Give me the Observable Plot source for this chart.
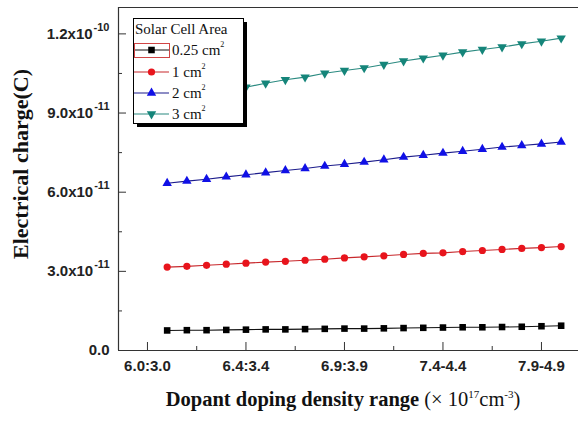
<!DOCTYPE html>
<html><head><meta charset="utf-8">
<script src="https://cdn.jsdelivr.net/npm/d3@7"></script>
<script src="https://cdn.jsdelivr.net/npm/@observablehq/plot@0.6"></script>
<style>body{margin:0;background:#fff} svg{display:block}</style>
</head><body><div id="chart"></div>
<script>
// ---- data (charge in units of 1e-11 C) ----
const positions = [1,2,3,4,5,6,7,8,9,10,11,12,13,14,15,16,17,18,19,20,21];
const xTickValues = [0,5,10,15,20];
const xTickLabels = ["6.0:3.0","6.4:3.4","6.9:3.9","7.4-4.4","7.9-4.9"];
const yTickValues = [0,3,6,9,12];
const yTickMantissas = ["0.0","3.0x10","6.0x10","9.0x10","1.2x10"];
const yTickExponents = ["","-11","-11","-11","-10"];
const seriesNames = ["0.25 cm","1 cm","2 cm","3 cm"];
const area025 = [0.76,0.77,0.77,0.78,0.79,0.80,0.80,0.81,0.82,0.83,0.83,0.84,0.85,0.86,0.87,0.88,0.88,0.89,0.90,0.92,0.94];
const area1   = [3.16,3.19,3.23,3.27,3.31,3.35,3.38,3.42,3.46,3.51,3.55,3.59,3.64,3.68,3.70,3.75,3.79,3.83,3.87,3.90,3.94];
const area2   = [6.34,6.42,6.49,6.58,6.66,6.74,6.82,6.90,6.99,7.06,7.14,7.23,7.33,7.40,7.48,7.55,7.63,7.71,7.77,7.83,7.90];
const area3   = [9.48,9.60,9.73,9.86,9.98,10.13,10.26,10.36,10.51,10.61,10.71,10.84,10.97,11.08,11.19,11.31,11.41,11.50,11.62,11.72,11.84];

// ---- styling ----
const W = 578, H = 423, mL = 118, mR = 0, mT = 7, mB = 73;
const frameW = W - mL - mR, frameH = H - mT - mB;
const xDomain = [-1.47, 21.88], yDomain = [0, 13];
const triangleDown = {
  draw(context, size) {
    const s3 = Math.sqrt(3);
    const y = -Math.sqrt(size / (s3 * 3));
    context.moveTo(0, -y * 2);
    context.lineTo(-s3 * y, y);
    context.lineTo(s3 * y, y);
    context.closePath();
  }
};
const styles = [
  {values: area025, line: "#111", fill: "#000", symbol: "square", d3sym: d3.symbolSquare, r: 3.7},
  {values: area1, line: "#c8282c", fill: "#e8141c", symbol: "circle", d3sym: d3.symbolCircle, r: 3.6},
  {values: area2, line: "#1c1c8c", fill: "#1010e6", symbol: "triangle", d3sym: d3.symbolTriangle, r: 3.5},
  {values: area3, line: "#2a8a80", fill: "#15857a", symbol: triangleDown, d3sym: triangleDown, r: 3.5}
];

const seriesMarks = [];
styles.forEach((s, si) => {
  const rows = s.values.map((v, i) => ({x: positions[i], y: v}));
  seriesMarks.push(Plot.line(rows, {x: "x", y: "y", stroke: s.line, strokeWidth: 1.1}));
  seriesMarks.push(Plot.dot(rows, {x: "x", y: "y", symbol: s.symbol, fill: s.fill, stroke: "none", r: s.r}));
});

const yMinor = [1.5, 4.5, 7.5, 10.5];
const xMinor = [2.5, 7.5, 12.5, 17.5];

const plot = Plot.plot({
  width: W, height: H,
  marginLeft: mL, marginRight: mR, marginTop: mT, marginBottom: mB,
  style: {background: "#fff", fontFamily: "'Liberation Sans', Arial, sans-serif", overflow: "visible"},
  x: {domain: xDomain},
  y: {domain: yDomain},
  marks: [
    ...seriesMarks,
    Plot.ruleY([yDomain[0], yDomain[1]], {stroke: "#333", strokeWidth: 1.2}),
    Plot.ruleX([xDomain[0]], {stroke: "#333", strokeWidth: 1.2}),
    Plot.tickY(yTickValues, {y: d => d, insetRight: frameW - 8, stroke: "#333"}),
    Plot.tickY(yMinor, {y: d => d, insetRight: frameW - 4, stroke: "#333"}),
    Plot.tickX(xTickValues, {x: d => d, insetTop: frameH - 8, stroke: "#333"}),
    Plot.tickX(xMinor, {x: d => d, insetTop: frameH - 4, stroke: "#333"}),
    Plot.axisX(xTickValues, {tickSize: 0, tickPadding: 10, label: null,
      tickFormat: d => xTickLabels[xTickValues.indexOf(d)],
      fontSize: 15, fontWeight: "bold", fill: "#222"}),
    Plot.axisY(yTickValues, {tickSize: 0, tickPadding: 9, label: null,
      tickFormat: d => { const i = yTickValues.indexOf(d); return yTickMantissas[i] + "|" + yTickExponents[i]; },
      fontSize: 15, fontWeight: "bold", fill: "#222"})
  ]
});

const svg = d3.select(plot);
// superscript exponents on y tick labels
svg.selectAll('g[aria-label="y-axis tick label"] text').each(function() {
  const t = d3.select(this);
  const [m, e] = this.textContent.split("|");
  t.text(m);
  if (e) t.append("tspan").attr("font-size", 11).attr("dx", 1).attr("dy", "-0.7em").text(e);
});

const serif = "'Liberation Serif','Times New Roman',serif";
// y title
svg.append("text").attr("transform", "translate(28,164) rotate(-90)")
  .attr("text-anchor", "middle").attr("font-family", serif).attr("font-weight", "bold")
  .attr("font-size", 22).attr("fill", "#111").text("Electrical charge(C)");
// x title
const xt = svg.append("text").attr("x", 343).attr("y", 406).attr("text-anchor", "middle")
  .attr("font-family", serif).attr("font-size", 20.5).attr("fill", "#111");
xt.append("tspan").attr("font-weight", "bold").text("Dopant doping density range ");
xt.append("tspan").text("(\u00d7 10");
xt.append("tspan").attr("font-size", 11).attr("dy", -8).text("17");
xt.append("tspan").attr("dy", 8).text("cm");
xt.append("tspan").attr("font-size", 11).attr("dy", -8).text("-3");
xt.append("tspan").attr("dy", 8).text(")");

// legend
const lg = svg.append("g").attr("font-family", serif).attr("fill", "#111").attr("text-anchor", "start");
lg.append("rect").attr("x", 137).attr("y", 22).attr("width", 110).attr("height", 105).attr("fill", "#000");
lg.append("rect").attr("x", 133.5).attr("y", 18.5).attr("width", 110).attr("height", 105)
  .attr("fill", "#fff").attr("stroke", "#000").attr("stroke-width", 1);
lg.append("text").attr("x", 135).attr("y", 33.5).attr("font-size", 15).attr("text-anchor", "start").text("Solar Cell Area");
const rowY = [50, 72, 93, 114];
styles.forEach((s, i) => {
  const cy = rowY[i];
  lg.append("line").attr("x1", 134).attr("x2", 169).attr("y1", cy).attr("y2", cy)
    .attr("stroke", s.line).attr("stroke-width", 1.1);
  lg.append("path").attr("transform", `translate(151.5,${cy})`)
    .attr("d", d3.symbol(s.d3sym, Math.PI * s.r * s.r)()).attr("fill", s.fill);
  const tx = lg.append("text").attr("x", 172).attr("y", cy + 5).attr("font-size", 15)
    .attr("text-anchor", "start").text(seriesNames[i]);
  tx.append("tspan").attr("font-size", 8).attr("dy", -8).text("2");
});
lg.append("rect").attr("x", 134.5).attr("y", 43.5).attr("width", 35).attr("height", 14)
  .attr("fill", "none").attr("stroke", "#d04545").attr("stroke-width", 1);

document.getElementById("chart").appendChild(plot);
</script>
</body></html>
